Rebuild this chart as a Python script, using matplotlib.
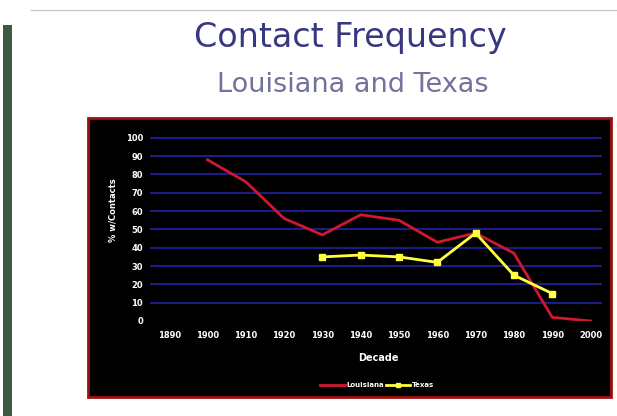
import numpy as np
import matplotlib.pyplot as plt
from matplotlib.patches import Rectangle

decades = [1890, 1900, 1910, 1920, 1930, 1940, 1950, 1960, 1970, 1980, 1990, 2000]

la_years = [1900, 1910, 1920, 1930, 1940, 1950, 1960, 1970, 1980, 1990, 2000]
louisiana = [88, 76, 56, 47, 58, 55, 43, 48, 37, 2, 0]

tx_years = [1930, 1940, 1950, 1960, 1970, 1980, 1990]
texas = [35, 36, 35, 32, 48, 25, 15]

fig = plt.figure(figsize=(6.17, 4.16), dpi=100)
fig.patch.set_facecolor("white")

# slide decorations: dark left edge, thin top rule
fig.patches.append(Rectangle((0.005, 0), 0.015, 0.94, transform=fig.transFigure,
                             facecolor="#3d5a45", edgecolor="none", zorder=-2))
fig.add_artist(plt.Line2D([0.05, 1.0], [0.975, 0.975], color="#c8c8c8", lw=1))

# black chart panel with red border
fig.patches.append(Rectangle((88 / 617, 1 - 397 / 416), (611 - 88) / 617, (397 - 118) / 416,
                             transform=fig.transFigure, facecolor="black",
                             edgecolor="#a01010", lw=2, zorder=-1))

fig.text(350 / 617, 1 - 47 / 416, "Contact Frequency", ha="center", va="baseline",
         fontsize=24, color="#383880")
fig.text(353 / 617, 1 - 92 / 416, "Louisiana and Texas", ha="center", va="baseline",
         fontsize=19.5, color="#72729a")

ax = fig.add_axes([150 / 617, 1 - 321 / 416, (602 - 150) / 617, (321 - 136) / 416])
ax.set_facecolor("black")
ax.set_xlim(1885, 2003)
ax.set_ylim(0, 101)
ax.set_yticks(np.arange(0, 101, 10))
ax.set_xticks(decades)
for y in range(10, 101, 10):
    ax.axhline(y, color="#1c1c88", lw=1.5, zorder=0)
for s in ax.spines.values():
    s.set_visible(False)
ax.tick_params(length=0, colors="white", labelsize=6)
ax.tick_params(axis="x", pad=7)
ax.tick_params(axis="y", pad=5)
for lab in ax.get_xticklabels() + ax.get_yticklabels():
    lab.set_fontweight("bold")

ax.plot(la_years, louisiana, color="#d01830", lw=2, label="Louisiana")
ax.plot(tx_years, texas, color="#ffff40", lw=2, marker="s", ms=5, label="Texas")

fig.text(378 / 617, 1 - 358 / 416, "Decade", ha="center", va="center",
         fontsize=7, color="white", fontweight="bold")
fig.text(113 / 617, 1 - 210 / 416, "% w/Contacts", ha="center", va="center",
         rotation=90, fontsize=6, color="white", fontweight="bold")

leg = fig.legend(loc="center", bbox_to_anchor=(377 / 617, 1 - 385 / 416), ncol=2,
                 frameon=False, fontsize=5, handlelength=3.5, columnspacing=0.3,
                 handletextpad=0.2, markerscale=0.6)
for t in leg.get_texts():
    t.set_color("white")
    t.set_fontweight("bold")

fig.savefig("out.png", dpi=100, facecolor=fig.get_facecolor())
